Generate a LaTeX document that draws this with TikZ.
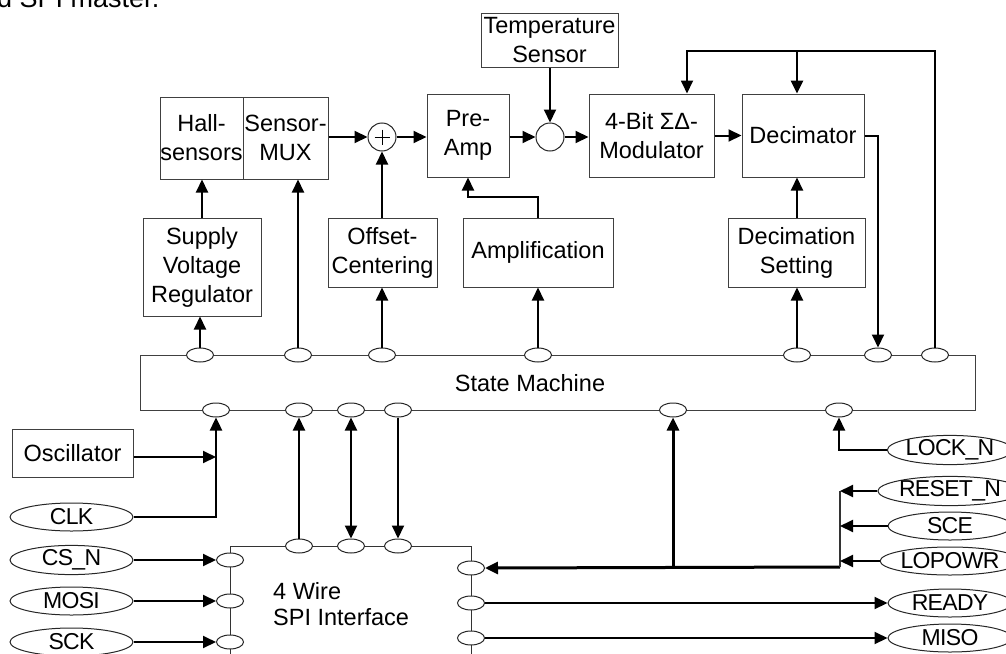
\documentclass[tikz,border=0pt]{standalone}
\usepackage{fontspec}
\setmainfont{Liberation Sans}
\newfontfamily\pinfont[LetterSpace=-3]{Liberation Sans}
\usetikzlibrary{arrows.meta,shapes.geometric,calc}
\begin{document}
\begin{tikzpicture}[x=1pt,y=-1pt,
  every node/.style={font=\fontsize{23.5}{29}\selectfont},
  box/.style={draw=black!75, line width=1pt, align=center, inner sep=0pt},
  port/.style={ellipse, draw=black!85, line width=1pt, fill=white, minimum width=27pt, minimum height=14pt, inner sep=0pt},
  pin/.style={ellipse, draw=black!85, line width=1pt, fill=white, minimum width=123pt, minimum height=28pt, inner sep=0pt, font=\pinfont\fontsize{23}{26}\selectfont},
  junc/.style={circle, draw=black!85, line width=1pt, fill=white, minimum size=28pt, inner sep=0pt},
  arr/.style={line width=2pt, -{Triangle[length=13pt,width=12pt]}},
  darr/.style={line width=2pt, {Triangle[length=13pt,width=12pt]}-{Triangle[length=13pt,width=12pt]}},
  wire/.style={line width=1pt, draw=black!80},
  thickwire/.style={line width=3pt}
]
\useasboundingbox (0,0) rectangle (1006,653);
\clip (0,0) rectangle (1006,653);

% caption fragment from surrounding text
\node[anchor=base west, inner sep=0pt, font=\fontsize{27}{30}\selectfont] (cap) at (-3,7.5) {d SPI master.};

% blocks
\node[box, minimum width=83pt, minimum height=82pt] (hall) at (201.5,138) {Hall-\\sensors};
\node[box, minimum width=85pt, minimum height=82pt] (mux) at (285.5,138) {Sensor-\\MUX};
\node[box, minimum width=137pt, minimum height=54pt] (temp) at (549.5,40) {Temperature\\Sensor};
\node[box, minimum width=82pt, minimum height=83pt] (preamp) at (468,135.5) {Pre-\\Amp};
\node[box, minimum width=125pt, minimum height=83pt] (mod) at (651.5,135.5) {4-Bit ΣΔ-\\Modulator};
\node[box, minimum width=122pt, minimum height=83pt] (dec) at (803,135.5) {Decimator};
\node[box, minimum width=118pt, minimum height=98pt] (supply) at (202,267) {Supply\\Voltage\\Regulator};
\node[box, minimum width=109pt, minimum height=69pt] (offset) at (382.5,252.5) {Offset-\\Centering};
\node[box, minimum width=150pt, minimum height=69pt] (ampl) at (538,252.5) {Amplification};
\node[box, minimum width=137pt, minimum height=69pt] (decset) at (796.5,252.5) {Decimation\\Setting};
\node[box, minimum width=835pt, minimum height=55pt] (sm) at (557.5,382.5) {};
\node (smtext) at (530,383) {State Machine};
\node[box, minimum width=121pt, minimum height=48pt] (osc) at (72.5,453) {Oscillator};

% SPI interface box (open at the bottom)
\coordinate (spiTL) at (230,546);
\coordinate (spiTR) at (471,546);
\draw[wire] (230,670) -- (spiTL) -- (spiTR) -- (471,670);
\node[align=left, anchor=west, inner sep=0pt, font=\fontsize{23.5}{26}\selectfont] (spitext) at (273,604) {4 Wire\\SPI Interface};

% summing junctions
\node[junc] (sum) at (382,137) {};
\draw[line width=1pt] ($(sum.center)+(-7.5,0)$) -- ($(sum.center)+(7.5,0)$)
  ($(sum.center)+(0,-7.5)$) -- ($(sum.center)+(0,7.5)$);
\node[junc] (circ) at (550,137) {};

% ports on state machine (top)
\node[port] (smt1) at (200,355) {};
\node[port] (smt2) at (298,355) {};
\node[port] (smt3) at (382,355) {};
\node[port] (smt4) at (538,355) {};
\node[port] (smt5) at (797,355) {};
\node[port] (smt6) at (878,355) {};
\node[port] (smt7) at (935,355) {};
% ports on state machine (bottom)
\node[port] (smb1) at (216,410) {};
\node[port] (smb2) at (299,410) {};
\node[port] (smb3) at (351,410) {};
\node[port] (smb4) at (398,410) {};
\node[port] (smb5) at (673,410) {};
\node[port] (smb6) at (839,410) {};
% ports on SPI interface
\node[port] (spt1) at (299,546) {};
\node[port] (spt2) at (351,546) {};
\node[port] (spt3) at (398,546) {};
\node[port] (spl1) at (230,560) {};
\node[port] (spl2) at (230,601) {};
\node[port] (spl3) at (230,642) {};
\node[port] (spr1) at (471,568) {};
\node[port] (spr2) at (471,603) {};
\node[port] (spr3) at (471,638) {};

% pins
\node[pin] (clk) at (71.5,517) {CLK};
\node[pin] (csn) at (71.5,560) {CS\_N};
\node[pin] (mosi) at (71.5,601) {MOSI};
\node[pin] (sck) at (71.5,642) {SCK};
\node[pin, minimum width=124pt] (lockn) at (950,450) {LOCK\_N};
\node[pin, minimum width=124pt] (resetn) at (950,491) {RESET\_N};
\node[pin, minimum width=124pt] (sce) at (950,526) {SCE};
\node[pin, minimum width=124pt] (lopowr) at (950,561) {LOPOWR};
\node[pin, minimum width=124pt] (ready) at (950,603) {READY};
\node[pin, minimum width=124pt] (miso) at (950,638) {MISO};

% signal path
\draw[arr] (mux.east |- sum.west) -- (sum.west);
\draw[arr] (sum.east) -- (sum.east -| preamp.west);
\draw[arr] (preamp.east |- circ.west) -- (circ.west);
\draw[arr] (circ.east) -- (circ.east -| mod.west);
\draw[arr] (mod.east) -- (dec.west);
\draw[arr] (temp.south -| circ.north) -- (circ.north);

% upward control arrows
\draw[arr] (supply.north) -- (supply.north |- hall.south);
\draw[arr] (smt1.north) -- (smt1.north |- supply.south);
\draw[arr] (smt2.north) -- (smt2.north |- mux.south);
\draw[arr] (offset.north -| sum.south) -- (sum.south);
\draw[arr] (smt3.north) -- (smt3.north |- offset.south);
\draw[arr] (smt4.north) -- (smt4.north |- ampl.south);
\draw[arr] (ampl.north -| smt4.north) -- ++(0,-21) -| (preamp.south);
\draw[arr] (smt5.north) -- (smt5.north |- decset.south);
\draw[arr] (decset.north -| smt5.north) -- (smt5.north |- dec.south);

% decimator output
\draw[arr] (dec.east) -| (smt6.north);

% feedback
\coordinate (fb) at (797,51);
\coordinate (fb2) at (687,51);
\draw[line width=2.6pt] (smt7.north) |- (fb);
\draw[arr, line width=2.6pt] (fb) -- (fb |- dec.north);
\draw[arr, line width=1.8pt] (fb) -- (fb2) -- (fb2 |- mod.north);

% clock
\coordinate (oscj) at (216,457);
\draw[arr] (osc.east |- oscj) -- (oscj);
\draw[arr, line width=2.4pt] (clk.east) -| (smb1.south);

% SPI <-> state machine
\draw[arr] (spt1.north) -- (smb2.south);
\draw[darr] (spt2.north) -- (smb3.south);
\draw[arr] (smb4.south) -- (spt3.north);

% SPI inputs
\draw[arr] (csn.east) -- (spl1.west);
\draw[arr] (mosi.east) -- (spl2.west);
\draw[arr] (sck.east) -- (spl3.west);

% right side inputs
\coordinate (rj) at (840,567);
\draw[arr, thickwire] (rj) -- (spr1.east);
\draw[arr, thickwire] (smb5 |- rj) -- (smb5.south);
\draw[wire, line width=1.5pt] (resetn.west -| rj) -- (rj);
\draw[arr] (resetn.west) -- (resetn.west -| rj);
\draw[arr] (sce.west) -- (sce.west -| rj);
\draw[arr] (lopowr.west) -- (lopowr.west -| rj);
\draw[arr] (lockn.west) -| (smb6.south);

% SPI outputs
\draw[arr] (spr2.east) -- (ready.west);
\draw[arr] (spr3.east) -- (miso.west);
\end{tikzpicture}
\end{document}
